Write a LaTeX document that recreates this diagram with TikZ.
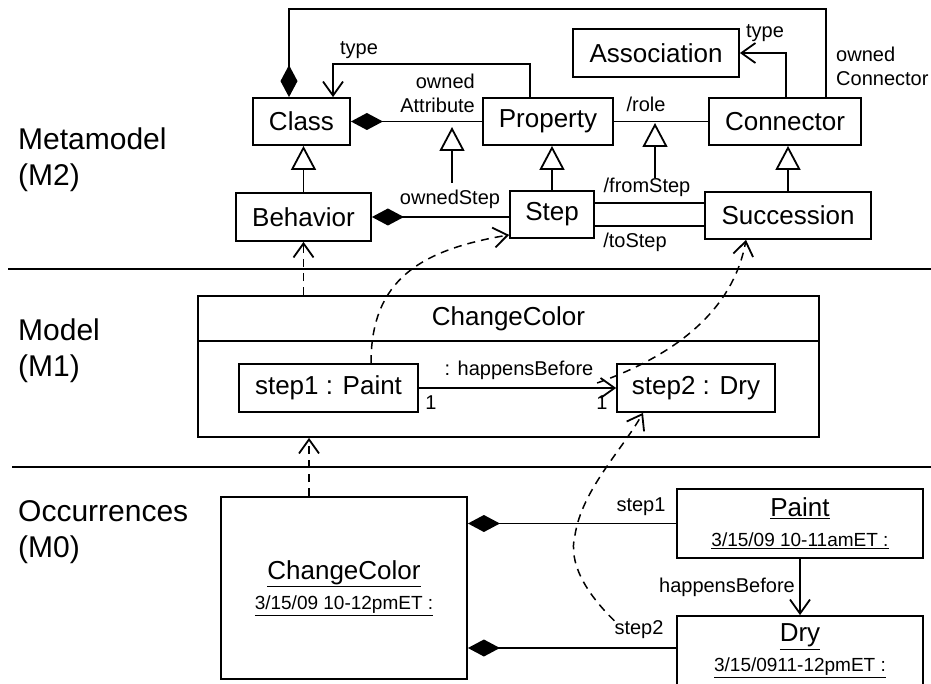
\documentclass[tikz,border=0pt]{standalone}
\usepackage{fontspec}
\setmainfont{Liberation Sans}
\usetikzlibrary{arrows.meta, positioning, calc}

\newcommand{\occdate}{\fontsize{19}{22}\selectfont}

\begin{document}
\begin{tikzpicture}[
    x=1pt, y=-1pt,
    every node/.style={font=\fontsize{20}{24}\selectfont, inner sep=0pt},
    levellabel/.style={
        align=left,
        anchor=west,
        font=\fontsize{30}{36}\selectfont
    },
    umlbox/.style={
        rectangle,
        draw=black,
        line width=1.8pt,
        align=center,
        font=\fontsize{26}{31}\selectfont
    },
    occbox/.style={
        umlbox,
        minimum width=246pt,
        font=\fontsize{26}{29}\selectfont
    },
    sepline/.style={line width=1.5pt},
    assoc/.style={line width=1.8pt},
    nav/.style={
        assoc,
        -{Straight Barb[length=14pt, width=20pt]}
    },
    comp/.style={
        assoc,
        {Diamond[length=32pt, width=17pt]}-
    },
    gen/.style={
        assoc,
        -{Triangle[open, length=24pt, width=25pt]}
    },
    dep/.style={
        line width=1.5pt,
        dash pattern=on 8pt off 6pt,
        -{Straight Barb[length=14pt, width=20pt, line width=1.8pt]}
    }
]
\useasboundingbox (0,0) rectangle (931,684);

% Level labels and separators
\node[levellabel] (lblM2) at (18,160) {Metamodel\\(M2)};
\node[levellabel] (lblM1) at (18,351) {Model\\(M1)};
\node[levellabel] (lblM0) at (18,532) {Occurrences\\(M0)};
\draw[sepline] (8,269) -- (931,269);
\draw[sepline] (12,467) -- (931,467);

% Metamodel nodes
\node[umlbox, minimum width=97pt, minimum height=47pt] (class) at (301.5,121.5) {Class};
\node[umlbox, minimum width=130pt, minimum height=47pt] (property) at (548,121.5) {Property};
\node[umlbox, minimum width=152pt, minimum height=47pt] (connector) at (785,121.5) {Connector};
\node[umlbox, minimum width=166pt, minimum height=48pt] (association) at (656,53) {Association};
\node[umlbox, minimum width=135pt, minimum height=48pt] (behavior) at (303.5,217) {Behavior};
\node[umlbox, minimum width=84pt, minimum height=47pt] (step) at (552,214.5) {Step};
\node[umlbox, minimum width=166pt, minimum height=47pt] (succession) at (788,215.5) {Succession};

\coordinate (topY) at (0,9);
\coordinate (attrGen) at (452,127);
\coordinate (stepGen) at (452,183);
\coordinate (roleGen) at (655,123);
\coordinate (fromGen) at (655,178);

% Metamodel labels
\node (typeA) at (359,50) {type};
\node (typeB) at (765,33) {type};
\node[align=right, anchor=east] (ownedAttr) at (475,93) {owned\\Attribute};
\node[align=left, anchor=west] (ownedConn) at (836,66) {owned\\Connector};
\node (ownedStep) at (450,199) {ownedStep};
\node (role) at (646,104) {/role};
\node (fromStep) at (647,187) {/fromStep};
\node (toStep) at (635,242) {/toStep};

% Metamodel connectors
\draw[comp] ([xshift=-12.5pt]class.north) -- ([xshift=-12.5pt]class.north |- topY) -| ([xshift=41pt]connector.north);
\draw[nav] ([xshift=-18pt]property.north) -- ++(0,-33) -| ([xshift=31.5pt]class.north);
\draw[comp] (class.east) -- (property.west);
\draw[assoc] (property.east) -- (connector.west);
\draw[nav] ([xshift=1pt]connector.north) |- (association.east);
\draw[gen] (behavior.north) -- (behavior.north |- class.south);
\draw[gen] (step.north) -- (step.north |- property.south);
\draw[gen] (succession.north) -- (succession.north |- connector.south);
\draw[gen] (stepGen) -- (attrGen);
\draw[gen] (fromGen) -- (roleGen);
\draw[comp] (behavior.east) -- (behavior.east -| step.west);
\draw[assoc] ([yshift=11.5pt]step.east) -- ([yshift=11.5pt]step.east -| succession.west);
\draw[assoc] ([yshift=-11.5pt]step.east) -- ([yshift=-11.5pt]step.east -| succession.west);

% Model nodes
\node[umlbox, minimum width=621pt, minimum height=45pt] (chgHead) at (508.5,318.5) {ChangeColor};
\node[umlbox, minimum width=621pt, minimum height=96pt] (chgBody) at (508.5,389) {};
\node[umlbox, minimum width=179pt, minimum height=48pt] (step1) at (328.5,388) {step1 : Paint};
\node[umlbox, minimum width=158pt, minimum height=48pt] (step2) at (696,388) {step2 : Dry};

\draw[nav] (step1.east) -- (step2.west);
\node (hbLbl) at (519,370) {: happensBefore};
\node (multA) at (431,403) {1};
\node (multB) at (602,403) {1};

% Occurrence nodes
\node[occbox, minimum height=182pt] (occChange) at (344,588)
    {\underline{ChangeColor}\\[1pt] {\occdate\underline{3/15/09 10-12pmET :}}};
\node[occbox, minimum height=69pt] (paint) at (800,523.5)
    {\underline{Paint}\\[1pt] {\occdate\underline{3/15/09 10-11amET :}}};
\node[occbox, minimum height=70pt] (dry) at (800,651)
    {\underline{Dry}\\[1pt] {\occdate\underline{3/15/0911-12pmET :}}};

\node (stepOneLbl) at (641,507) {step1};
\node (stepTwoLbl) at (639,630) {step2};
\node[anchor=east] (hbOcc) at (795,587) {happensBefore};

\draw[comp] (paint.west -| occChange.east) -- (paint.west);
\draw[comp] ([yshift=3pt]dry.west -| occChange.east) -- ([yshift=3pt]dry.west);
\draw[nav] (paint.south) -- (dry.north);

% Instance-of arrows
\draw[dep] (chgHead.north -| behavior.south) -- (behavior.south);
\draw[dep] ([xshift=-35pt]occChange.north) -- ([xshift=-35pt]occChange.north |- chgBody.south);
\draw[dep] ([xshift=42.5pt]step1.north) .. controls (371,280) and (420,250) .. ([yshift=4pt]step.south west);
\draw[dep] ([shift={(-19pt,5pt)}]step2.west) .. controls (690,350) and (735,300) .. ([xshift=-42pt]succession.south);
\draw[dep] (stepTwoLbl.north west) .. controls (585,592) and (568,562) .. (575,535)
    .. controls (582,490) and (622,450) .. ([xshift=-53pt]step2.south);

\end{tikzpicture}
\end{document}
